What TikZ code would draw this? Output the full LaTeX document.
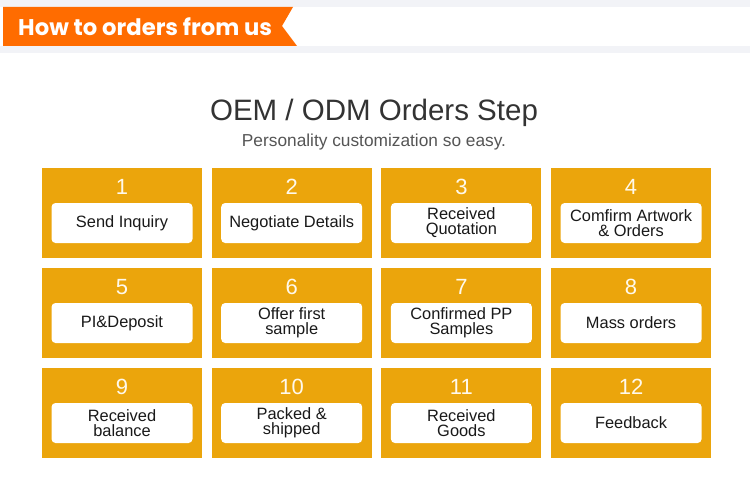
\documentclass[tikz,border=0pt]{standalone}
\usepackage{fontspec}
\setmainfont{Liberation Sans}
\newfontfamily\popfont{Poppins}
\definecolor{bandgray}{HTML}{F2F3F7}
\definecolor{bannerorange}{HTML}{FF6C00}
\definecolor{boxorange}{HTML}{EBA50C}
\definecolor{titlegray}{HTML}{333333}
\definecolor{subgray}{HTML}{555555}
\definecolor{numwhite}{HTML}{FFF9EC}
\tikzset{
  stepbox/.style={fill=boxorange, draw=none, minimum width=160pt, minimum height=90pt, inner sep=0pt},
  stepnum/.style={text=numwhite, font=\fontsize{22}{22}\selectfont, inner sep=0pt},
  steplabel/.style={fill=white, rounded corners=4pt, minimum width=141pt, minimum height=40pt, inner sep=0pt, align=center, text=black!90, font=\fontsize{16.4}{15}\selectfont},
}
\begin{document}
\begin{tikzpicture}[x=1pt,y=-1pt]
\useasboundingbox (0,0) rectangle (750,487);
\fill[white] (0,0) rectangle (750,487);
\fill[bandgray] (0,0) rectangle (750,7);
\fill[bandgray] (0,46) rectangle (750,53);
\fill[bannerorange] (3,7) -- (293,7) -- (282,26) -- (297,46) -- (3,46) -- cycle;
\node[anchor=west, text=white, font=\popfont\bfseries\fontsize{22.7}{22.7}\selectfont, inner sep=0pt] (banner) at (18,26.5) {How to orders from us};
\node[text=titlegray, font=\fontsize{29.5}{29.5}\selectfont, inner sep=0pt] (title) at (374,113) {OEM / ODM Orders Step};
\node[text=subgray, font=\fontsize{17.3}{17.3}\selectfont, inner sep=0pt] (subtitle) at (374,142.5) {Personality customization so easy.};
\foreach \n/\c/\r/\t in {
  1/0/0/{Send Inquiry},
  2/1/0/{Negotiate Details},
  3/2/0/{Received\\Quotation},
  4/3/0/{Comfirm Artwork\\\& Orders},
  5/0/1/{PI\&Deposit},
  6/1/1/{Offer first\\sample},
  7/2/1/{Confirmed PP\\Samples},
  8/3/1/{Mass orders},
  9/0/2/{Received\\balance},
  10/1/2/{Packed \&\\shipped},
  11/2/2/{Received\\Goods},
  12/3/2/{Feedback}}{
  \pgfmathsetmacro{\bx}{122+169.7*\c}
  \pgfmathsetmacro{\by}{213+100*\r}
  \node[stepbox] (box\n) at (\bx,\by) {};
  \node[stepnum] (num\n) at ([yshift=26pt]box\n.center) {\n};
  \node[steplabel] (lab\n) at ([yshift=-10pt]box\n.center) {\t};
}
\end{tikzpicture}
\end{document}
